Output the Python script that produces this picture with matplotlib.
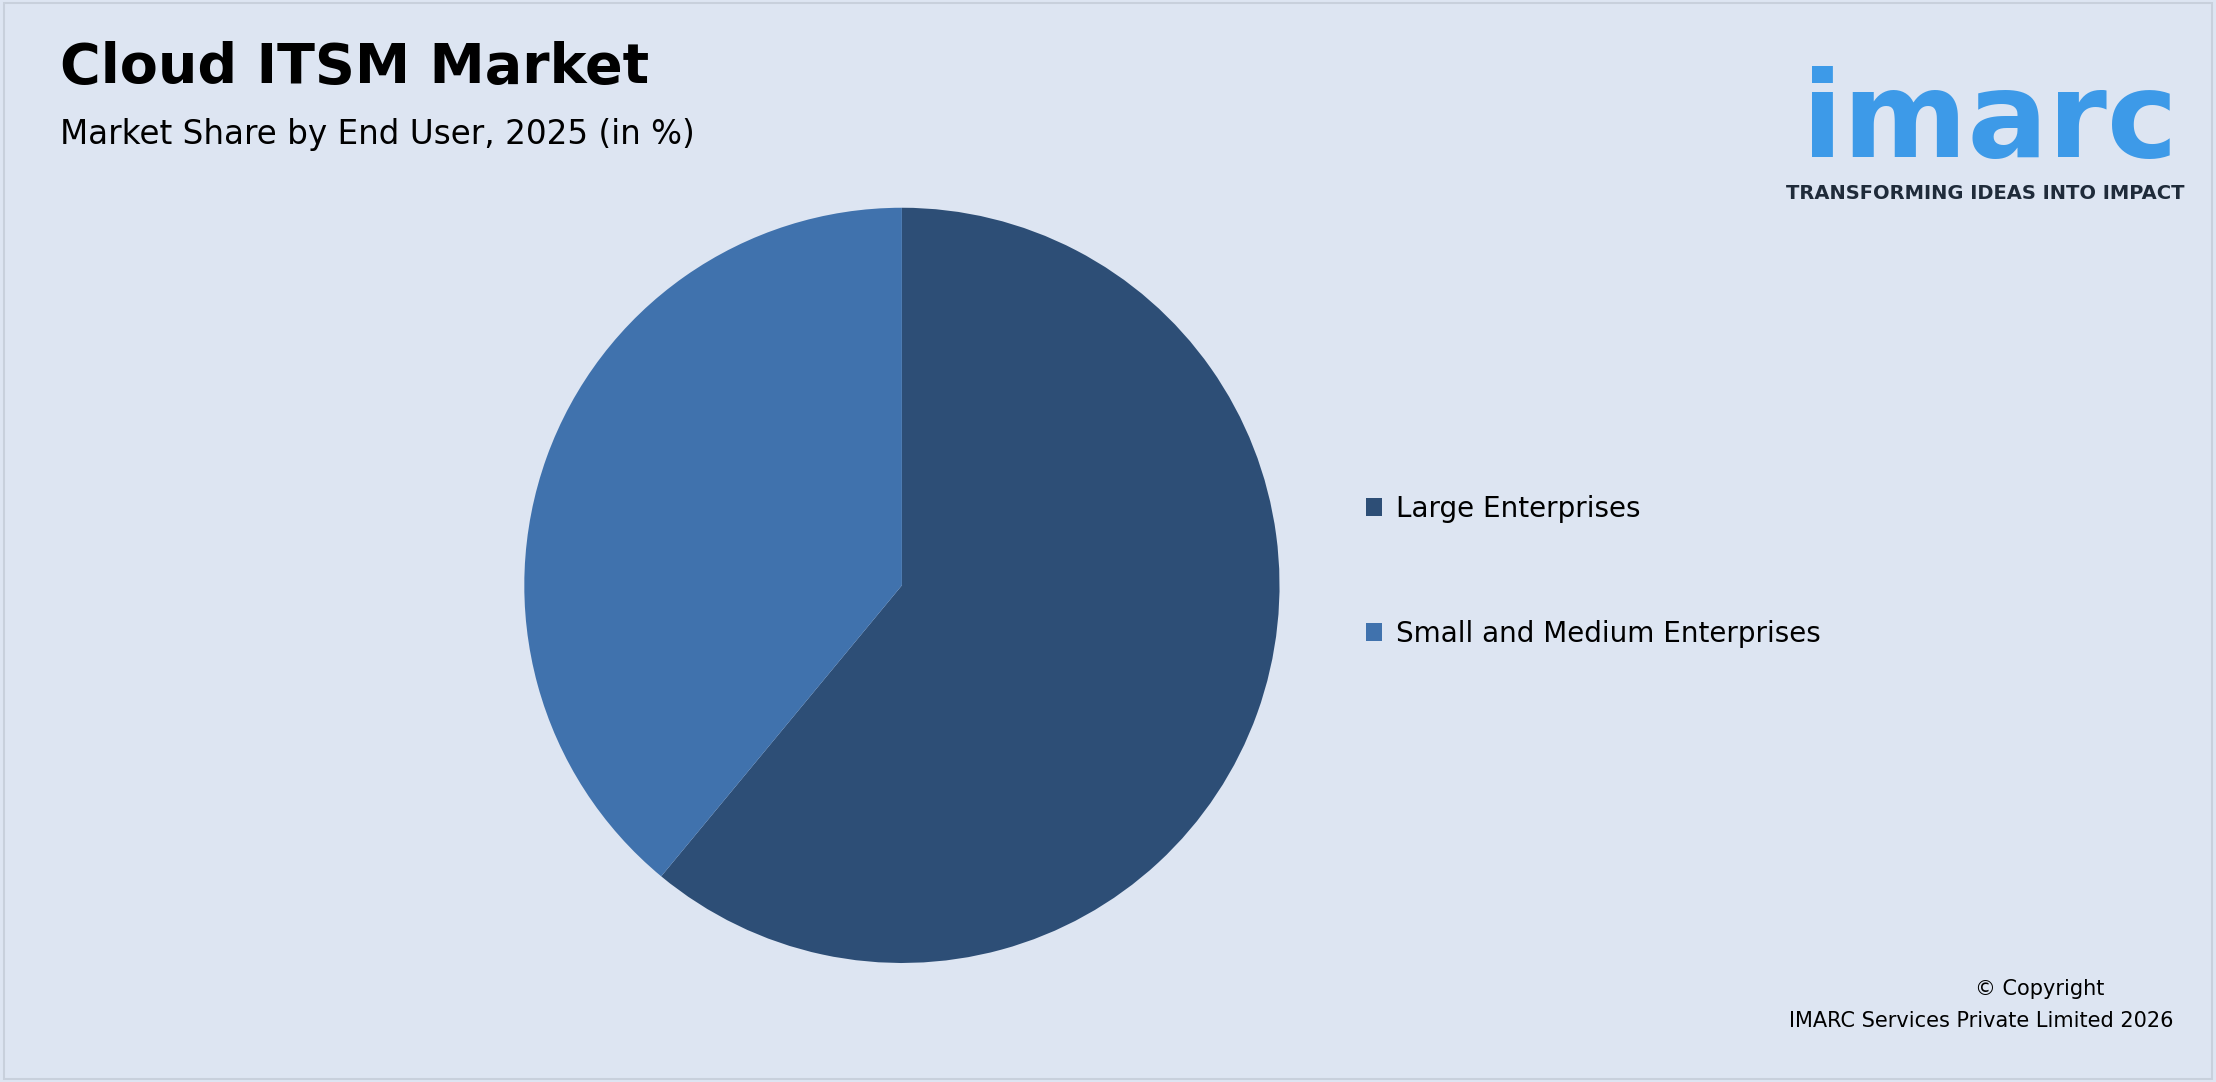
import matplotlib.pyplot as plt
from matplotlib.patches import Rectangle

labels = ['Large Enterprises', 'Small and Medium Enterprises']
shares = [61, 39]
colors = ['#2d4e76', '#4072ad']

W, H = 2216, 1082
fig = plt.figure(figsize=(W / 100, H / 100), dpi=100)
fig.patch.set_facecolor('#dde5f2')
fig.patches.append(Rectangle((0.002, 0.003), 0.996, 0.994, transform=fig.transFigure,
                             fill=False, edgecolor='#c8d0dc', linewidth=1.5))

fig.text(0.027, 0.937, 'Cloud ITSM Market', fontsize=40, fontweight='bold', va='center')
fig.text(0.027, 0.876, 'Market Share by End User, 2025 (in %)', fontsize=23.5, va='center')

# pie
h = 0.698
w = h * H / W
cx, cy = 0.407, 0.459
ax = fig.add_axes([cx - w / 2, cy - h / 2, w, h])
wedges, _ = ax.pie(shares, colors=colors, startangle=90, counterclock=False,
                   wedgeprops=dict(linewidth=0))
ax.set_xlim(-1, 1)
ax.set_ylim(-1, 1)
ax.set_aspect('equal')

leg = fig.legend(wedges, labels, loc='center left', bbox_to_anchor=(0.605, 0.472),
                 frameon=False, fontsize=20, handlelength=0.6, handleheight=0.6,
                 handletextpad=0.5, labelspacing=3.5)

# logo
fig.text(0.898, 0.885, 'imarc', fontsize=86, fontweight='bold', color='#3d9ae8',
         ha='center', va='center')
fig.text(0.896, 0.821, 'TRANSFORMING IDEAS INTO IMPACT', fontsize=14, fontweight='bold',
         color='#1f2b3a', ha='center', va='center')

fig.text(0.9205, 0.086, '© Copyright', fontsize=15, ha='center', va='center')
fig.text(0.981, 0.056, 'IMARC Services Private Limited 2026', fontsize=15, ha='right', va='center')

fig.savefig('out.png', dpi=100, facecolor=fig.get_facecolor())
